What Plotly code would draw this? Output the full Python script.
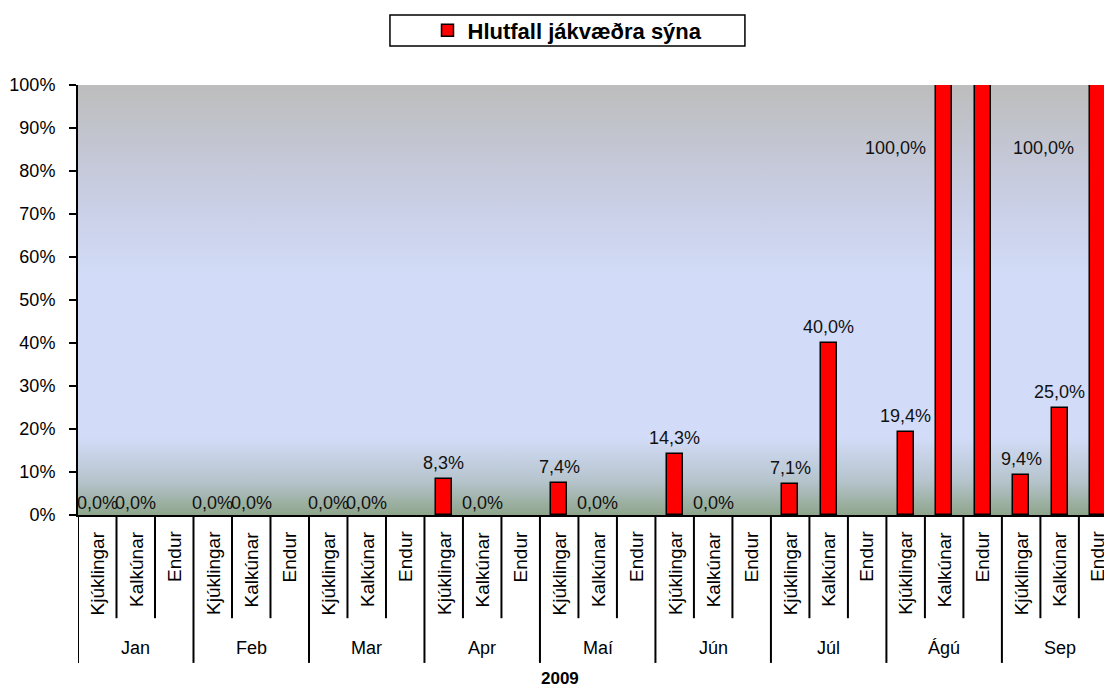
import base64
import plotly.graph_objects as go

# ---------------- data ----------------
months = ["Jan", "Feb", "Mar", "Apr", "Maí", "Jún", "Júl", "Ágú", "Sep"]
subcats = ["Kjúklingar", "Kalkúnar", "Endur"]
kjuklingar = [0.0, 0.0, 0.0, 8.3, 7.4, 14.3, 7.1, 19.4, 9.4]
kalkunar = [0.0, 0.0, 0.0, 0.0, 0.0, 0.0, 40.0, 100.0, 25.0]
endur = [None, None, None, None, None, None, None, 100.0, 100.0]
year_label = "2009"
series_name = "Hlutfall jákvæðra sýna"
y_ticks = [0, 10, 20, 30, 40, 50, 60, 70, 80, 90, 100]
y_ticktext = ["%d%%" % t for t in y_ticks]

# labels that Excel drew away from their bars / omitted (style only)
label_offsets = {(7, 1): (-49, -63), (8, 2): (-55, -63)}
hidden_labels = {(7, 2)}

# ---------------- build ----------------
series = [kjuklingar, kalkunar, endur]
xs, ys = [], []
# listed last-to-first so the legend swatch takes the style of an outlined bar
for m in reversed(range(len(months))):
    for s in reversed(range(len(subcats))):
        xs.append(m * len(subcats) + s)
        ys.append(series[s][m])

FONT = "Liberation Sans, Arial, sans-serif"
fig = go.Figure()
fig.add_trace(go.Bar(
    x=xs, y=ys, width=0.42, name="<b>%s</b>" % series_name,
    marker=dict(color="#ff0000",
                line=dict(color="#000000", width=[1.5 if (v or 0) > 0 else 0 for v in ys])),
    showlegend=True, cliponaxis=False, hoverinfo="x+y",
))

# gradient background as an SVG image
grad = [(0.00, "#bdbdbd"), (0.25, "#c8cde2"), (0.45, "#d2dcf8"), (0.82, "#d2dcf8"),
        (0.92, "#b6c4cd"), (1.00, "#8ea58b")]
svg = ('<svg xmlns="http://www.w3.org/2000/svg" width="100" height="100" preserveAspectRatio="none">'
       '<defs><linearGradient id="g" x1="0" y1="0" x2="0" y2="1">'
       + "".join('<stop offset="%.3f" stop-color="%s"/>' % (o, c) for o, c in grad)
       + '</linearGradient></defs><rect width="100" height="100" fill="url(#g)"/></svg>')
src = "data:image/svg+xml;base64," + base64.b64encode(svg.encode()).decode()

shapes = []
# category separators
n = len(months) * len(subcats)
for i in range(n + 1):
    long = i % len(subcats) == 0
    shapes.append(dict(type="line", xref="x", yref="paper", x0=i - 0.5, x1=i - 0.5,
                       y0=0, y1=-0.344 if long else -0.240,
                       line=dict(color="#000000", width=2)))

# legend box
shapes.append(dict(type="rect", xref="paper", yref="paper", x0=0.3017, x1=0.645,
                   y0=1.0907, y1=1.1628, line=dict(color="#000000", width=1.5),
                   fillcolor="#ffffff"))

annotations = []
# data labels
for m in range(len(months)):
    for s in range(len(subcats)):
        v = series[s][m]
        if v is None or (m, s) in hidden_labels:
            continue
        txt = ("%.1f%%" % v).replace(".", ",")
        x = m * len(subcats) + s
        if (m, s) in label_offsets:
            dx, dy = label_offsets[(m, s)]
            annotations.append(dict(x=x, y=v, xref="x", yref="y", text=txt, showarrow=False,
                                    xshift=dx, yshift=dy, yanchor="middle",
                                    font=dict(family=FONT, size=18, color="#111111")))
        else:
            annotations.append(dict(x=x, y=v, xref="x", yref="y", text=txt, showarrow=False,
                                    yanchor="bottom", yshift=4 if v > 0 else 0,
                                    font=dict(family=FONT, size=18, color="#111111")))
# subcategory labels
for m in range(len(months)):
    for s in range(len(subcats)):
        annotations.append(dict(x=m * len(subcats) + s, y=-0.033, xref="x", yref="paper",
                                text=subcats[s], textangle=-90, showarrow=False,
                                yanchor="top", xanchor="center",
                                font=dict(family=FONT, size=19, color="#000000")))
# month labels
for m in range(len(months)):
    annotations.append(dict(x=m * len(subcats) + 1, y=-0.309, xref="x", yref="paper",
                            text=months[m], showarrow=False, yanchor="middle",
                            font=dict(family=FONT, size=18, color="#000000")))
annotations.append(dict(x=0.466, y=-0.381, xref="paper", yref="paper", text="<b>%s</b>" % year_label,
                        showarrow=False, yanchor="middle", borderpad=0,
                        font=dict(family=FONT, size=17, color="#000000")))

fig.update_layout(
    width=1104, height=684,
    margin=dict(l=70, r=0, t=77, b=177, autoexpand=False),
    paper_bgcolor="#ffffff", plot_bgcolor="#d2dcf8",
    font=dict(family=FONT, size=17, color="#000000"),
    shapes=shapes, annotations=annotations,
    images=[dict(source=src, xref="paper", yref="paper", x=0, y=1, sizex=1, sizey=1,
                 xanchor="left", yanchor="top", sizing="stretch", layer="below")],
    bargap=0,
    legend=dict(orientation="h", x=0.4734, xanchor="center", y=1.127, yanchor="middle",
                bgcolor="rgba(0,0,0,0)", font=dict(family=FONT, size=22, color="#000000"),
                itemclick=False),
    xaxis=dict(range=[-0.5, 26.36], showticklabels=False, showgrid=False, zeroline=False,
               showline=True, linecolor="#000000", linewidth=2, ticks=""),
    yaxis=dict(range=[0, 100], tickmode="array", tickvals=y_ticks, ticktext=y_ticktext,
               showgrid=False, zeroline=False, showline=True, linecolor="#000000", linewidth=2,
               ticks="outside", ticklen=7, tickcolor="#000000", tickwidth=1.5,
               ticklabelstandoff=10, tickfont=dict(family=FONT, size=18, color="#000000")),
)
fig.write_html("out.html")
